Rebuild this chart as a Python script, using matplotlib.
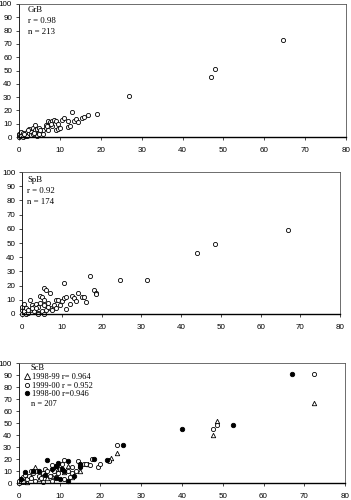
import matplotlib
matplotlib.use('Agg')
import matplotlib.pyplot as plt
from matplotlib.lines import Line2D

# ── data ──
grb_x = [0, 0, 0, 0.3, 0.5, 0.5, 1, 1, 1.5, 1.5, 2, 2, 2.5, 2.5, 3, 3, 3.5, 3.5,
         4, 4, 4.5, 4.5, 5, 5, 5.5, 6, 6, 6.5, 6.5, 7, 7, 7.5, 8, 8, 8.5, 9, 9,
         9.5, 9.5, 10, 10.5, 11, 12, 12, 12.5, 13, 13.5, 14, 14.5, 15.5, 16, 17,
         19, 27, 47, 48, 64.5, 1.2, 2.2, 3.8, 5.2, 6.8, 7.8, 4.8]
grb_y = [0, 2, 1.5, 0.5, 1, 4, 0, 3, 2, 0.5, 1, 4, 6, 3, 4, 1.5, 2, 7,
         9, 5, 6, 1, 7, 3, 4, 5, 2, 9, 7, 12, 5, 11, 12, 8, 13, 5, 12,
         6, 10, 7, 13, 14, 12, 7.5, 8, 19, 12, 13.5, 11, 14, 15, 16.5,
         17.5, 31, 45, 51, 73, 2, 5, 3, 5, 8, 10, 2]

spb_x = [0, 0, 0, 0.5, 0.5, 1, 1, 1.5, 2, 2, 2.5, 3, 3, 3.5, 4, 4, 4, 4.5, 4.5,
         5, 5, 5.5, 5.5, 5.5, 5.5, 6, 6, 6.5, 7, 7, 7.5, 8, 8.5, 8.5, 9, 9.5,
         10, 10.5, 10.5, 11, 11, 12, 12.5, 13, 13.5, 14, 15, 15.5, 16, 17, 18,
         18.5, 18.5, 24.5, 31.5, 44, 48.5, 67, 2.5, 3.5, 6.5, 1.5]
spb_y = [0, 3, 5, 7, 2, 4, 0, 1, 10, 3, 6, 5, 2, 7, 5, 1, 0, 13, 8,
         12, 2, 18, 10, 6, 0, 17, 3, 8, 15, 4, 3, 6, 10, 4, 10, 6,
         9, 11, 22, 3.5, 12, 7, 13, 11, 9, 15, 12, 12, 8.5, 27, 17,
         15, 14, 24, 24, 43, 49, 59, 4, 4, 5, 3]

scb98_x = [0, 1, 2, 3, 4, 5, 6, 7, 8, 9, 10, 11, 12, 13, 15, 17, 22, 22.5,
           24, 47.5, 48.5, 72.5]
scb98_y = [1, 2, 1, 5, 13, 3, 8, 4, 6, 12, 14, 9, 14, 5, 10, 16, 19, 21,
           25, 40, 52, 67]

scb99_x = [0, 0, 0.5, 1, 1, 1.5, 2, 2.5, 3, 3, 3.5, 4, 4.5, 5, 5.5, 6, 6,
           6.5, 7, 7.5, 8, 8, 8.5, 9, 9, 9.5, 10, 10.5, 11, 11, 12, 12.5, 13,
           13, 14, 14.5, 15, 16, 16.5, 17.5, 18, 19.5, 20, 22, 24, 47.5, 48.5,
           72.5]
scb99_y = [0, 2, 3, 5, 1, 7, 3, 6, 10, 4, 8, 2, 10, 6, 4, 8, 1,
           12, 10, 6, 15, 2, 10, 14, 5, 8, 12, 16, 19, 3, 10, 5, 13,
           8, 10, 18, 14, 16, 16, 15, 20, 13, 16, 18, 32, 45, 48,
           91]

scb9800_x = [0.5, 1.5, 3.5, 5, 6.5, 7, 8, 9, 9, 9.5, 10, 10.5, 11, 12, 12,
             13.5, 15, 15, 18.5, 21.5, 25.5, 40, 52.5, 67]
scb9800_y = [3, 9, 10, 10, 7, 19, 12, 14, 4, 17, 3, 12, 10, 18, 2,
             6, 13, 16, 20, 19, 32, 45, 48, 91]

ticks_x = list(range(0, 81, 10))
ticks_y = list(range(0, 101, 10))

TICK_FONT = 'Liberation Sans'
TEXT_FONT = 'Liberation Serif'
FS = 5.8      # tick labels
TS = 6.3      # panel annotations


def style_axes(ax):
    ax.set_xlim(0, 80)
    ax.set_ylim(0, 100)
    ax.set_xticks(ticks_x)
    ax.set_yticks(ticks_y)
    ax.tick_params(axis='both', length=2, width=0.5, labelsize=FS, pad=3)
    ax.tick_params(axis='x', pad=5)
    for lab in ax.get_xticklabels() + ax.get_yticklabels():
        lab.set_fontfamily(TICK_FONT)
    for sp in ax.spines.values():
        sp.set_linewidth(0.6)
        sp.set_color('#555555')
    ax.spines['left'].set_color('black')
    ax.spines['bottom'].set_color('black')
    ax.spines['bottom'].set_linewidth(1.0)


def open_scatter(ax, x, y, marker='o', ms=3.0):
    ax.plot(x, y, linestyle='none', marker=marker, markersize=ms,
            markerfacecolor='white', markeredgecolor='black',
            markeredgewidth=0.6, clip_on=False)


fig = plt.figure(figsize=(3.51, 5.0), dpi=100)
fig.patch.set_facecolor('white')

# ── GrB ──
ax1 = fig.add_axes([0.054, 0.726, 0.932, 0.266])
open_scatter(ax1, grb_x, grb_y)
style_axes(ax1)
for yy, s in zip([0.955, 0.872, 0.79], ['GrB', 'r = 0.98', 'n = 213']):
    ax1.text(0.027, yy, s, transform=ax1.transAxes, fontsize=TS,
             fontfamily=TEXT_FONT, va='center', ha='left')

# ── SpB ──
ax2 = fig.add_axes([0.063, 0.372, 0.906, 0.284])
open_scatter(ax2, spb_x, spb_y)
style_axes(ax2)
for yy, s in zip([0.944, 0.868, 0.79], ['SpB', 'r = 0.92', 'n = 174']):
    ax2.text(0.015, yy, s, transform=ax2.transAxes, fontsize=TS,
             fontfamily=TEXT_FONT, va='center', ha='left')

# ── ScB ──
ax3 = fig.add_axes([0.054, 0.034, 0.929, 0.24])
open_scatter(ax3, scb98_x, scb98_y, marker='^', ms=3.2)
open_scatter(ax3, scb99_x, scb99_y)
ax3.plot(scb9800_x, scb9800_y, linestyle='none', marker='o', markersize=3.2,
         markerfacecolor='black', markeredgecolor='black',
         markeredgewidth=0.6, clip_on=False)
style_axes(ax3)
ax3.text(0.036, 0.958, 'ScB', transform=ax3.transAxes, fontsize=6.0,
         fontfamily=TEXT_FONT, va='center', ha='left')
ax3.text(0.036, 0.655, 'n = 207', transform=ax3.transAxes, fontsize=6.0,
         fontfamily=TEXT_FONT, va='center', ha='left')
handles = [
    Line2D([], [], linestyle='none', marker='^', markersize=4.2,
           markerfacecolor='white', markeredgecolor='black', markeredgewidth=0.6),
    Line2D([], [], linestyle='none', marker='o', markersize=3.0,
           markerfacecolor='white', markeredgecolor='black', markeredgewidth=0.6),
    Line2D([], [], linestyle='none', marker='o', markersize=3.2,
           markerfacecolor='black', markeredgecolor='black', markeredgewidth=0.6),
]
labels = ['1998-99 r= 0.964', '1999-00 r = 0.952', '1998-00 r=0.946']
ax3.legend(handles, labels, loc='upper left', bbox_to_anchor=(0.015, 0.915),
           frameon=False, prop={'family': TEXT_FONT, 'size': 6.0},
           handlelength=0.7, handletextpad=0.3, labelspacing=0.05,
           borderpad=0, borderaxespad=0)

fig.savefig('out.png', dpi=100, facecolor='white')
